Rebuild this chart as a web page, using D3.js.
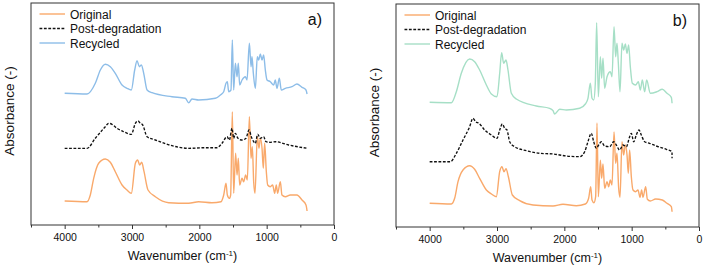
<!DOCTYPE html>
<html>
<head>
<meta charset="utf-8">
<script src="https://cdn.jsdelivr.net/npm/d3@7"></script>
<style>
  body { margin: 0; background: #fff; }
  svg { display: block; font-family: Arial, "Liberation Sans", sans-serif; }
</style>
</head>
<body>
<div id="chart"></div>
<script>
// spectra: [wavenumber cm-1, absorbance offset (a.u.)]
const originalA = [
  [4000, 0.24], [3668, 0.233], [3619, 0.30], [3569, 0.467], [3495, 0.617], [3396, 0.66],
  [3322, 0.627], [3248, 0.533], [3148, 0.40], [3074, 0.35], [3010, 0.317], [2950, 0.617],
  [2916, 0.65], [2886, 0.60], [2856, 0.627], [2821, 0.533], [2762, 0.35], [2653, 0.283],
  [2455, 0.223], [2158, 0.217], [2010, 0.233], [1812, 0.223], [1678, 0.233], [1638, 0.30],
  [1604, 0.417], [1584, 0.30], [1554, 0.267], [1535, 0.30], [1510, 1.133], [1490, 0.317],
  [1461, 0.717], [1440, 0.50], [1421, 0.667], [1401, 0.40], [1366, 0.467], [1342, 0.433],
  [1312, 0.50], [1287, 0.45], [1257, 1.083], [1232, 0.667], [1213, 0.783], [1193, 0.433],
  [1173, 0.317], [1139, 0.883], [1114, 0.767], [1094, 0.867], [1069, 0.767], [1050, 0.567],
  [1030, 0.817], [1005, 0.533], [985, 0.40], [946, 0.383], [911, 0.40], [881, 0.317],
  [857, 0.40], [837, 0.317], [797, 0.433], [773, 0.30], [723, 0.283], [649, 0.30],
  [550, 0.30], [475, 0.25], [416, 0.20], [400, 0.14]
];
const postDegA = [
  [4000, 0.767], [3668, 0.767], [3545, 0.867], [3396, 0.983], [3347, 1.017], [3297, 1.007],
  [3223, 0.967], [3123, 0.933], [3010, 0.907], [2950, 1.017], [2910, 1.04], [2876, 1.017],
  [2841, 1.00], [2776, 0.883], [2653, 0.85], [2406, 0.793], [2158, 0.767], [1911, 0.773],
  [1738, 0.773], [1663, 0.817], [1589, 0.883], [1554, 0.85], [1515, 0.967], [1490, 0.867],
  [1465, 0.917], [1426, 0.867], [1366, 0.85], [1307, 0.867], [1262, 0.95], [1228, 0.883],
  [1193, 0.833], [1168, 0.817], [1134, 0.907], [1094, 0.867], [1045, 0.883], [1010, 0.833],
  [946, 0.827], [872, 0.833], [674, 0.80], [400, 0.767]
];
const recycledA = [
  [4000, 1.317], [3668, 1.31], [3545, 1.417], [3470, 1.55], [3396, 1.607], [3322, 1.583],
  [3248, 1.517], [3148, 1.40], [3074, 1.367], [3010, 1.35], [2960, 1.55], [2925, 1.643],
  [2891, 1.583], [2861, 1.60], [2826, 1.517], [2776, 1.35], [2702, 1.323], [2406, 1.283],
  [2208, 1.267], [2158, 1.223], [2109, 1.26], [2010, 1.25], [1762, 1.267], [1688, 1.30],
  [1638, 1.333], [1604, 1.417], [1584, 1.433], [1564, 1.333], [1530, 1.35], [1510, 1.85],
  [1490, 1.35], [1465, 1.617], [1440, 1.483], [1421, 1.617], [1401, 1.40], [1366, 1.45],
  [1317, 1.483], [1292, 1.45], [1257, 1.817], [1232, 1.583], [1218, 1.683], [1198, 1.517],
  [1168, 1.367], [1139, 1.683], [1119, 1.65], [1094, 1.71], [1069, 1.65], [1045, 1.70],
  [1020, 1.55], [995, 1.45], [946, 1.433], [896, 1.40], [872, 1.45], [847, 1.367],
  [812, 1.467], [783, 1.35], [723, 1.367], [624, 1.383], [550, 1.41], [475, 1.377],
  [416, 1.35], [400, 1.31]
];
const originalB = [
  [4000, 0.237], [3678, 0.23], [3629, 0.287], [3579, 0.453], [3505, 0.57], [3406, 0.613],
  [3332, 0.577], [3258, 0.487], [3158, 0.37], [3084, 0.33], [3010, 0.303], [2960, 0.553],
  [2926, 0.603], [2896, 0.553], [2866, 0.583], [2831, 0.503], [2772, 0.32], [2663, 0.263],
  [2465, 0.22], [2168, 0.21], [2020, 0.227], [1822, 0.213], [1688, 0.23], [1639, 0.287],
  [1609, 0.403], [1589, 0.27], [1560, 0.243], [1535, 0.303], [1515, 1.04], [1495, 0.303],
  [1465, 0.667], [1446, 0.487], [1426, 0.63], [1401, 0.387], [1366, 0.453], [1342, 0.403],
  [1317, 0.47], [1292, 0.42], [1262, 0.95], [1238, 0.637], [1218, 0.737], [1193, 0.387],
  [1173, 0.297], [1144, 0.853], [1119, 0.72], [1094, 0.82], [1069, 0.72], [1050, 0.537],
  [1030, 0.77], [1005, 0.503], [980, 0.37], [941, 0.353], [906, 0.37], [876, 0.297],
  [852, 0.37], [832, 0.297], [792, 0.403], [767, 0.277], [723, 0.26], [644, 0.28],
  [545, 0.27], [475, 0.237], [411, 0.203], [400, 0.153]
];
const postDegB = [
  [4000, 0.653], [3693, 0.653], [3604, 0.737], [3505, 0.87], [3406, 1.003], [3357, 1.087],
  [3317, 1.053], [3267, 1.037], [3183, 0.97], [3084, 0.92], [3000, 0.887], [2960, 0.97],
  [2921, 1.03], [2886, 0.987], [2851, 0.97], [2812, 0.853], [2738, 0.803], [2564, 0.763],
  [2366, 0.737], [2168, 0.73], [1970, 0.71], [1772, 0.703], [1698, 0.753], [1649, 0.853],
  [1599, 0.937], [1564, 0.853], [1525, 0.787], [1490, 0.82], [1451, 0.853], [1401, 0.81],
  [1327, 0.803], [1267, 0.853], [1228, 0.82], [1178, 0.77], [1129, 0.82], [1079, 0.803],
  [1030, 0.903], [1005, 0.937], [970, 0.853], [931, 0.92], [891, 0.97], [857, 0.92],
  [807, 0.853], [733, 0.837], [634, 0.81], [485, 0.777], [401, 0.753], [400, 0.687]
];
const recycledB = [
  [4000, 1.247], [3678, 1.243], [3604, 1.353], [3530, 1.537], [3406, 1.68], [3332, 1.653],
  [3258, 1.57], [3158, 1.42], [3084, 1.33], [3000, 1.303], [2960, 1.537], [2931, 1.743],
  [2901, 1.637], [2866, 1.67], [2837, 1.57], [2787, 1.337], [2713, 1.28], [2416, 1.21],
  [2218, 1.187], [2168, 1.163], [2144, 1.13], [2069, 1.177], [1970, 1.17], [1772, 1.187],
  [1688, 1.23], [1649, 1.287], [1614, 1.437], [1589, 1.287], [1564, 1.27], [1540, 1.437],
  [1520, 2.043], [1495, 1.303], [1465, 1.703], [1446, 1.487], [1426, 1.687], [1401, 1.387],
  [1366, 1.503], [1317, 1.553], [1292, 1.503], [1262, 2.003], [1238, 1.703], [1218, 1.837],
  [1198, 1.637], [1173, 1.353], [1144, 1.837], [1119, 1.77], [1094, 1.83], [1069, 1.737],
  [1045, 1.82], [1020, 1.603], [990, 1.437], [941, 1.42], [901, 1.453], [871, 1.37],
  [842, 1.47], [807, 1.353], [777, 1.47], [723, 1.337], [624, 1.353], [545, 1.377],
  [475, 1.337], [411, 1.297], [400, 1.237]
];

const seriesNames = ["Original", "Post-degradation", "Recycled"];
const panelLabels = ["a)", "b)"];
const majorTicks = [4000, 3000, 2000, 1000, 0];
const minorTicks = [4500, 3500, 2500, 1500, 500];
const xDomain = [4500, 0];

const width = 705;
const height = 266;

const panels = [
  { left: 31, right: 334, top: 3, bottom: 225, label: panelLabels[0],
    series: [originalA, postDegA, recycledA],
    colors: ["#f9a96b", "#111", "#8dbde8"] },
  { left: 396, right: 699, top: 4, bottom: 227, label: panelLabels[1],
    series: [originalB, postDegB, recycledB],
    colors: ["#f9a96b", "#111", "#a6dfc6"] }
];

const svg = d3.select("#chart").append("svg")
  .attr("width", width)
  .attr("height", height);

panels.forEach((p) => {
  const g = svg.append("g");

  const xScale = d3.scaleLinear().domain(xDomain).range([p.left, p.right]);
  const yScale = d3.scaleLinear()
    .domain([0, (p.bottom - p.top) / 100])
    .range([p.bottom, p.top]);

  const line = d3.line()
    .x((d) => xScale(d[0]))
    .y((d) => yScale(d[1]))
    .curve(d3.curveMonotoneX);

  // curves, recycled first so the dashed one sits on top
  [2, 0, 1].forEach((i) => {
    g.append("path")
      .attr("d", line(p.series[i]))
      .attr("fill", "none")
      .attr("stroke", p.colors[i])
      .attr("stroke-width", i === 1 ? 1.35 : 1.4)
      .attr("stroke-dasharray", i === 1 ? "2.8,1.6" : null)
      .attr("stroke-linejoin", "round");
  });

  // frame
  g.append("rect")
    .attr("x", p.left)
    .attr("y", p.top)
    .attr("width", p.right - p.left)
    .attr("height", p.bottom - p.top)
    .attr("fill", "none")
    .attr("stroke", "#333")
    .attr("stroke-width", 1);

  // minor ticks
  const minor = g.append("g")
    .attr("transform", `translate(0,${p.bottom})`)
    .call(d3.axisBottom(xScale).tickValues(minorTicks).tickSize(2.5).tickFormat(""));
  minor.select(".domain").remove();
  minor.selectAll("line").attr("stroke", "#333");

  // major ticks + labels
  const major = g.append("g")
    .attr("transform", `translate(0,${p.bottom})`)
    .call(d3.axisBottom(xScale).tickValues(majorTicks).tickSize(4).tickPadding(5)
      .tickFormat(d3.format("d")));
  major.select(".domain").remove();
  major.selectAll("line").attr("stroke", "#333");
  major.selectAll("text")
    .attr("fill", "#111")
    .style("font-size", "10.5px")
    .style("font-family", "Arial, 'Liberation Sans', sans-serif");

  // axis titles
  const title = g.append("text")
    .attr("x", (p.left + p.right) / 2)
    .attr("y", p.bottom + 35)
    .attr("text-anchor", "middle")
    .attr("font-size", 12.5)
    .attr("fill", "#111");
  title.append("tspan").text("Wavenumber (cm");
  title.append("tspan").attr("dy", -4.5).attr("font-size", 8).text("-1");
  title.append("tspan").attr("dy", 4.5).text(")");

  g.append("text")
    .attr("transform", `translate(${p.left - 17.5},${(p.top + p.bottom) / 2 - 3}) rotate(-90)`)
    .attr("text-anchor", "middle")
    .attr("font-size", 13.5)
    .attr("fill", "#111")
    .text("Absorbance (-)");

  // panel letter
  g.append("text")
    .attr("x", p.right - 12)
    .attr("y", p.top + 22)
    .attr("text-anchor", "end")
    .attr("font-size", 16)
    .attr("fill", "#111")
    .text(p.label);

  // legend
  const legend = g.append("g");
  seriesNames.forEach((name, i) => {
    const y = p.top + 11 + i * 14.5;
    legend.append("line")
      .attr("x1", p.left + 8.5)
      .attr("x2", p.left + 34)
      .attr("y1", y)
      .attr("y2", y)
      .attr("stroke", p.colors[i])
      .attr("stroke-width", i === 1 ? 1.35 : 1.4)
      .attr("stroke-dasharray", i === 1 ? "2.8,1.6" : null);
    legend.append("text")
      .attr("x", p.left + 39)
      .attr("y", y + 4.5)
      .attr("font-size", 12)
      .attr("fill", "#111")
      .text(name);
  });
});
</script>
</body>
</html>
